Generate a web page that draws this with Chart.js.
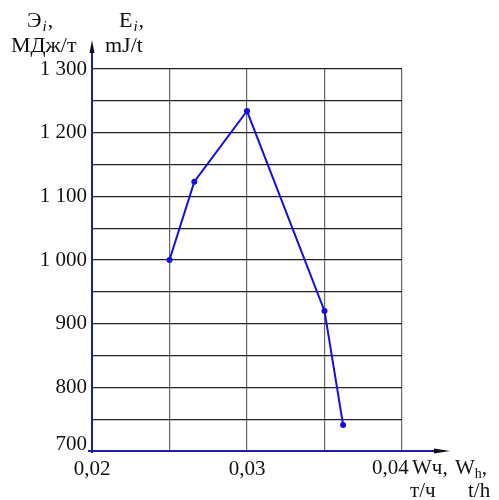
<!DOCTYPE html>
<html>
<head>
<meta charset="utf-8">
<script src="https://cdn.jsdelivr.net/npm/chart.js@4/dist/chart.umd.min.js"></script>
<style>
  html, body { margin: 0; padding: 0; background: #fff; }
  #wrap { width: 499px; height: 500px; }
</style>
</head>
<body>
<div id="wrap"><canvas id="energyChart"></canvas></div>
<script>
// values
const capacity = [0.025, 0.0266, 0.030, 0.035, 0.0362];   // W, t/h
const energy = [1000, 1123, 1234, 920, 741];              // E, mJ/t
const xLabels = { '0.02': '0,02', '0.03': '0,03' };
const yLabels = { 800: '800', 900: '900', 1000: '1 000', 1100: '1 100', 1200: '1 200', 1300: '1 300' };

const serif = '"Liberation Serif", "DejaVu Serif", serif';
const axisBlue = '#1c1ca8';
const fontSize = 21;

const axesAndTitles = {
  id: 'axesAndTitles',
  afterDraw(chart) {
    const { ctx, chartArea: a } = chart;
    ctx.save();
    // blue axis lines
    ctx.strokeStyle = axisBlue;
    ctx.lineWidth = 2;
    ctx.beginPath();
    ctx.moveTo(a.left, a.bottom + 2);
    ctx.lineTo(a.left, 52);
    ctx.moveTo(a.left - 4, a.bottom);
    ctx.lineTo(438, a.bottom);
    ctx.stroke();
    // arrow heads
    ctx.fillStyle = '#111';
    ctx.beginPath();
    ctx.moveTo(a.left, 40);
    ctx.lineTo(a.left - 2.5, 53);
    ctx.lineTo(a.left + 2.5, 53);
    ctx.closePath();
    ctx.fill();
    ctx.beginPath();
    ctx.moveTo(450, a.bottom);
    ctx.lineTo(434, a.bottom - 2.5);
    ctx.lineTo(434, a.bottom + 2.5);
    ctx.closePath();
    ctx.fill();

    ctx.fillStyle = '#111';
    ctx.textBaseline = 'alphabetic';
    ctx.textAlign = 'left';
    const txt = (s, x, y, size, style) => {
      ctx.font = (style || '') + ' ' + size + 'px ' + serif;
      ctx.fillText(s, x, y);
      return x + ctx.measureText(s).width;
    };
    // y-axis title
    let x = txt('Э', 27, 27, 22);
    x = txt('i', x + 1, 31, 15, 'italic');
    txt(',', x + 1, 27, 22);
    x = txt('E', 119, 27, 22);
    x = txt('i', x + 1, 31, 15, 'italic');
    txt(',', x + 1, 27, 22);
    txt('МДж/т', 11, 52, 22);
    txt('mJ/t', 105, 52, 22);
    // bottom tick label of y and last x label, set apart as in the picture
    ctx.textAlign = 'right';
    txt('700', 87, 450, fontSize);
    ctx.textAlign = 'left';
    txt('0,04', 372, 474, fontSize);
    // x-axis title
    txt('Wч,', 412, 474, fontSize);
    x = txt('W', 455, 474, fontSize);
    x = txt('h', x, 478, 14);
    txt(',', x, 474, fontSize);
    txt('т/ч', 410, 497, fontSize);
    txt('t/h', 468, 497, fontSize);
    ctx.restore();
  }
};

new Chart(document.getElementById('energyChart'), {
  type: 'line',
  data: {
    datasets: [{
      data: capacity.map((w, i) => ({ x: w, y: energy[i] })),
      borderColor: '#1010e0',
      backgroundColor: '#1010e0',
      borderWidth: 2,
      pointRadius: 2,
      pointHoverRadius: 2,
      tension: 0,
      fill: false
    }]
  },
  options: {
    responsive: true,
    maintainAspectRatio: false,
    animation: false,
    events: [],
    layout: { padding: { top: 69, right: 97, bottom: 0, left: 0 } },
    plugins: { legend: { display: false }, tooltip: { enabled: false } },
    scales: {
      x: {
        type: 'linear',
        min: 0.02,
        max: 0.04,
        border: { display: false },
        grid: { color: '#666', lineWidth: 1.2, drawTicks: false },
        afterBuildTicks: s => {
          s.ticks = [0.02, 0.025, 0.03, 0.035, 0.04].map(v => ({ value: v }));
        },
        afterFit: s => { s.height = 49; },
        ticks: {
          padding: 6,
          color: '#111',
          font: { family: serif, size: fontSize },
          maxRotation: 0,
          autoSkip: false,
          callback: v => xLabels[(+v).toFixed(3).replace(/0$/, '')] || ''
        }
      },
      y: {
        min: 700,
        max: 1300,
        border: { display: false },
        grid: { color: '#222', lineWidth: 1.2, drawTicks: false },
        afterFit: s => { s.width = 92; },
        ticks: {
          stepSize: 50,
          padding: 5,
          color: '#111',
          font: { family: serif, size: fontSize },
          callback: v => yLabels[v] || ''
        }
      }
    }
  },
  plugins: [axesAndTitles]
});
</script>
</body>
</html>
